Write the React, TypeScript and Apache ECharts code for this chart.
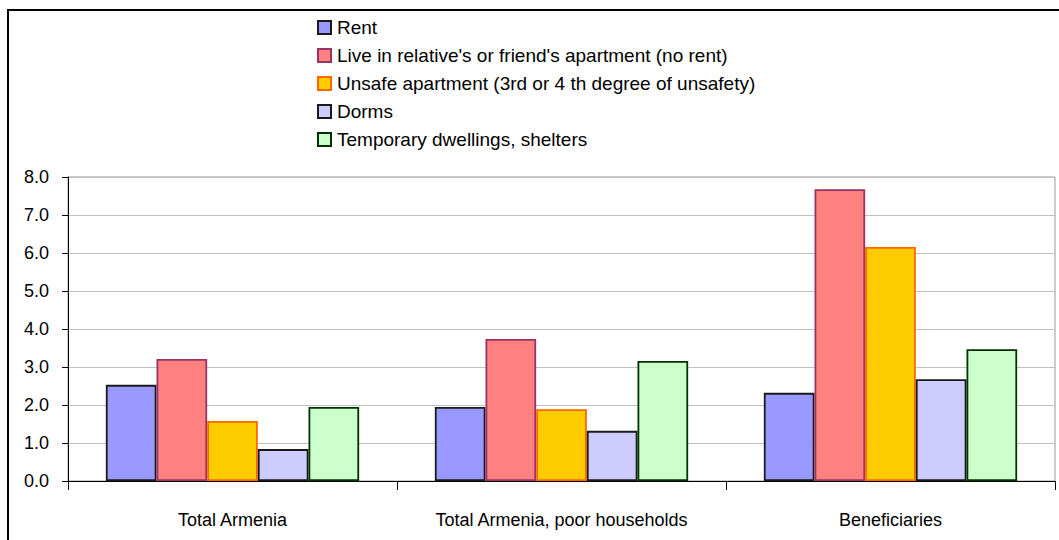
import React, { useEffect, useRef } from "react";
import * as echarts from "echarts";

const categories = ["Total Armenia", "Total Armenia, poor households", "Beneficiaries"];
const seriesNames = [
  "Rent",
  "Live in relative's or friend's apartment (no rent)",
  "Unsafe apartment (3rd or 4 th degree of unsafety)",
  "Dorms",
  "Temporary dwellings, shelters",
];
const rent = [2.53, 1.95, 2.32];
const relatives = [3.21, 3.74, 7.68];
const unsafe = [1.58, 1.89, 6.16];
const dorms = [0.84, 1.32, 2.68];
const shelters = [1.95, 3.16, 3.47];
const yTicks = [0, 1, 2, 3, 4, 5, 6, 7, 8];

const fills = ["#9999FF", "#FF8080", "#FFCC00", "#CCCCFF", "#CCFFCC"];
const borders = ["#1a1a1a", "#993366", "#FF6600", "#1a1a1a", "#003300"];
const FONT = "'Liberation Sans', Arial, sans-serif";

export default function App() {
  const ref = useRef<HTMLDivElement>(null);
  useEffect(() => {
    if (!ref.current) return;
    const chart = echarts.init(ref.current, null, { renderer: "svg" });
    const values = [rent, relatives, unsafe, dorms, shelters];
    chart.setOption({
      animation: false,
      backgroundColor: "#ffffff",
      textStyle: { fontFamily: FONT },
      graphic: [
        {
          type: "rect",
          shape: { x: 8, y: 10, width: 1200, height: 700 },
          style: { fill: "none", stroke: "#000", lineWidth: 2 },
          silent: true,
          z: 100,
        },
      ],
      legend: {
        orient: "vertical",
        left: 312,
        top: 13,
        itemWidth: 13,
        itemHeight: 13,
        itemGap: 9,
        icon: "rect",
        textStyle: { fontFamily: FONT, fontSize: 19, color: "#000", padding: [0, 0, 0, 1] },
        data: seriesNames,
      },
      grid: {
        left: 68,
        right: 4,
        top: 177,
        bottom: 59,
        show: true,
        borderColor: "#999",
        borderWidth: 1,
        backgroundColor: "transparent",
      },
      xAxis: {
        type: "category",
        data: categories,
        axisLine: { lineStyle: { color: "#000", width: 1 } },
        axisTick: { show: true, length: 9, lineStyle: { color: "#000" } },
        axisLabel: { fontFamily: FONT, fontSize: 18, color: "#000", margin: 30, interval: 0 },
      },
      yAxis: {
        type: "value",
        min: yTicks[0],
        max: yTicks[yTicks.length - 1],
        interval: 1,
        axisLine: { show: true, lineStyle: { color: "#000", width: 1 } },
        axisTick: { show: true, length: 6, lineStyle: { color: "#000" } },
        axisLabel: {
          fontFamily: FONT,
          fontSize: 18,
          color: "#000",
          margin: 19,
          formatter: (v: number) => v.toFixed(1),
        },
        splitLine: { lineStyle: { color: "#C0C0C0", width: 1 } },
      },
      series: seriesNames.map((name, i) => ({
        name,
        type: "bar",
        data: values[i],
        barGap: "0%",
        barCategoryGap: "23%",
        itemStyle: { color: fills[i], borderColor: borders[i], borderWidth: 1.8 },
      })),
    });
    return () => chart.dispose();
  }, []);
  return (
    <div
      ref={ref}
      style={{ position: "absolute", left: 0, top: 0, width: 1059, height: 540 }}
    />
  );
}
